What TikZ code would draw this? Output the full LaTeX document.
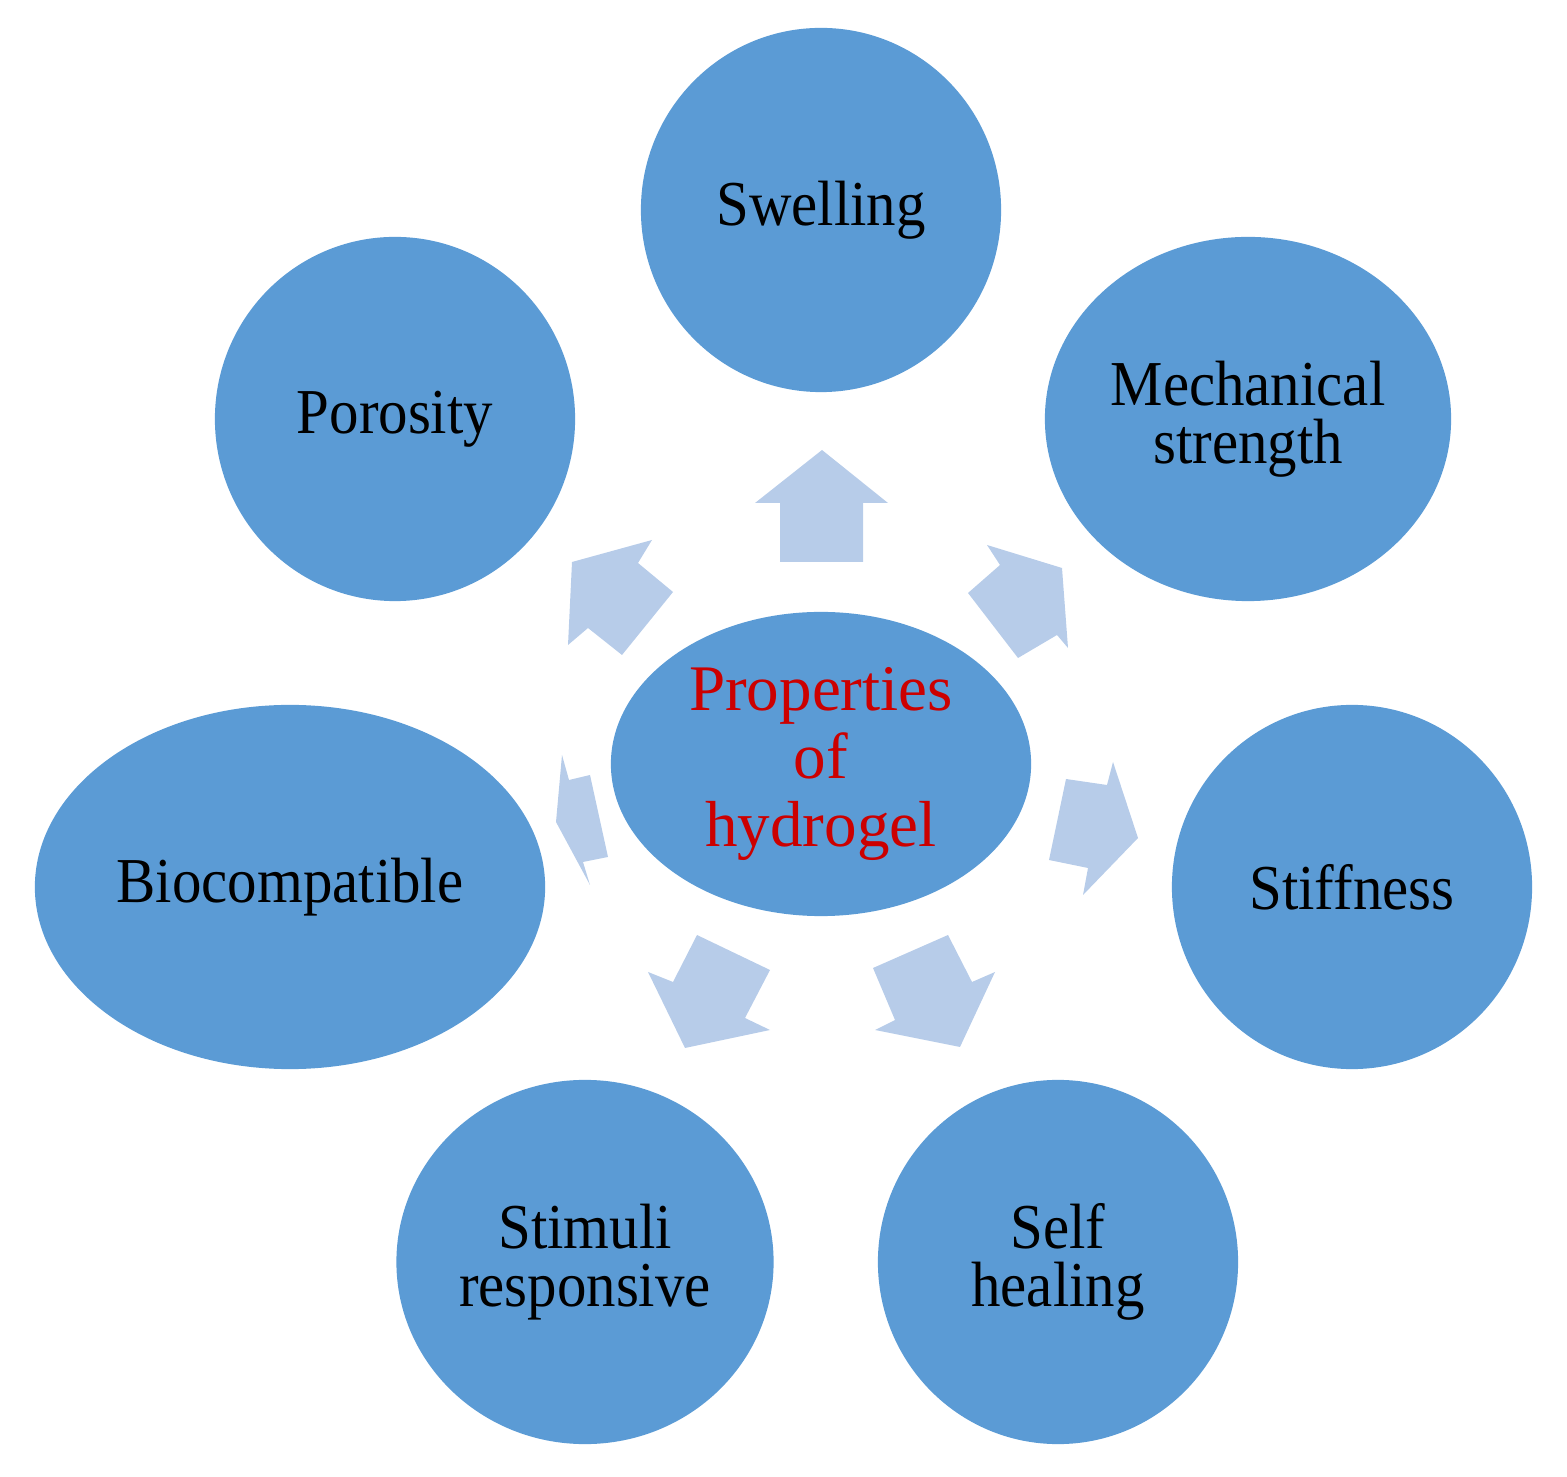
\documentclass[tikz,border=0pt]{standalone}
\usepackage{fontspec}
\setmainfont{Liberation Serif}
\newfontfamily\narrowserif{Liberation Serif}[FakeStretch=0.92]
\usetikzlibrary{shapes.geometric}
\definecolor{gelblue}{RGB}{91,155,213}
\definecolor{arrowblue}{RGB}{183,204,233}
\definecolor{gelred}{RGB}{204,0,0}
\begin{document}
\begin{tikzpicture}[x=0.01cm,y=-0.01cm,
		prop/.style={ellipse,fill=gelblue,inner sep=0pt,align=center,minimum height=3.64cm,font=\narrowserif\fontsize{18.2}{16.6}\selectfont},
		radarrow/.style={fill=arrowblue}]
		\useasboundingbox (0,0) rectangle (1567,1477);
		\node[prop,minimum width=4.2cm,minimum height=3.04cm,text=gelred,font=\fontsize{18.5}{19.4}\selectfont] (gel) at (821,764) {Properties\\of\\hydrogel};
		\node[prop,minimum width=3.6cm] (swell) at (821,210) {Swelling};
		\node[prop,minimum width=3.6cm] (poro) at (395,419) {Porosity};
		\node[prop,minimum width=4.06cm] (mech) at (1248,419) {Mechanical\\strength};
		\node[prop,minimum width=5.1cm] (bio) at (290,887) {Biocompatible};
		\node[prop,minimum width=3.6cm] (stiff) at (1352,887) {Stiffness};
		\node[prop,minimum width=3.77cm] (stim) at (585,1262) {Stimuli\\responsive};
		\node[prop,minimum width=3.6cm] (heal) at (1058,1262) {Self\\healing};
		\fill[radarrow] (822,450) -- (755,503) -- (780,503) -- (780,562) -- (863,562) -- (863,503) -- (888,503) -- cycle;
		\fill[radarrow] (572,562) -- (568,645) -- (588,628) -- (622,655) -- (673,592) -- (638,563) -- (652,540) -- cycle;
		\fill[radarrow] (1062,568) -- (987,545) -- (1000,565) -- (968,593) -- (1018,658) -- (1057,635) -- (1068,648) -- cycle;
		\fill[radarrow] (556,822) -- (562,755) -- (569,780) -- (590,775) -- (608,857) -- (583,862) -- (590,885) -- cycle;
		\fill[radarrow] (1138,838) -- (1113,762) -- (1107,785) -- (1066,779) -- (1049,860) -- (1088,868) -- (1083,895) -- cycle;
		\fill[radarrow] (685,1048) -- (770,1030) -- (745,1018) -- (770,970) -- (697,935) -- (673,982) -- (648,972) -- cycle;
		\fill[radarrow] (960,1047) -- (875,1030) -- (895,1020) -- (873,968) -- (948,935) -- (972,982) -- (995,972) -- cycle;
	\end{tikzpicture}
\end{document}
